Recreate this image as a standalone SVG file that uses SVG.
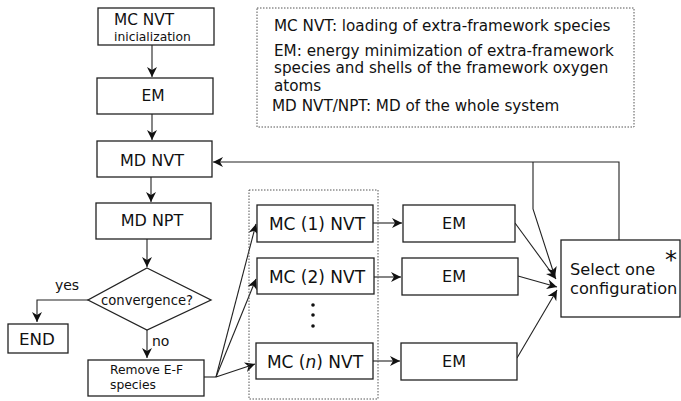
<svg xmlns="http://www.w3.org/2000/svg" width="681" height="401" viewBox="0 0 681 401">
<defs>
<style>
.box{fill:#fff;stroke:#222;stroke-width:1.3}
.dot{fill:none;stroke:#555;stroke-width:1;stroke-dasharray:1.5 1.5}
.c{fill:none;stroke:#222;stroke-width:1.1}
text{font-family:"DejaVu Sans",sans-serif;fill:#111}
.t16{font-size:16px;text-anchor:middle}
.t17{font-size:17px;text-anchor:middle}
.leg{font-size:15.2px}
</style>
<marker id="ah" viewBox="-11 -6 12 12" refX="0" refY="0" markerWidth="12" markerHeight="12" markerUnits="userSpaceOnUse" orient="auto">
<path d="M-10,-5 L0,0 L-10,5 L-7,0 Z" fill="#111"/>
</marker>
</defs>
<rect width="681" height="401" fill="#fff"/>

<g id="legend">
<rect class="dot" x="257" y="8" width="377" height="119"/>
<text class="leg" x="274" y="31">MC NVT: loading of extra-framework species</text>
<text class="leg" x="274" y="55.5">EM: energy minimization of extra-framework</text>
<text class="leg" x="274" y="73">species and shells of the framework oxygen</text>
<text class="leg" x="274" y="90.5">atoms</text>
<text class="leg" x="272" y="111">MD NVT/NPT: MD of the whole system</text>
</g>

<g id="connectors">
<line class="c" x1="152" y1="45" x2="152" y2="77" marker-end="url(#ah)"/>
<line class="c" x1="152" y1="114" x2="152" y2="140" marker-end="url(#ah)"/>
<line class="c" x1="151" y1="177" x2="151" y2="202" marker-end="url(#ah)"/>
<line class="c" x1="147" y1="239" x2="147" y2="267" marker-end="url(#ah)"/>
<line class="c" x1="147" y1="330" x2="147" y2="358" marker-end="url(#ah)"/>
<polyline class="c" points="88,300 37,300 37,322" marker-end="url(#ah)"/>
<polyline class="c" points="204,377 216,377"/>
<line class="c" x1="216" y1="377" x2="256" y2="224" marker-end="url(#ah)"/>
<line class="c" x1="216" y1="377" x2="256" y2="279" marker-end="url(#ah)"/>
<line class="c" x1="216" y1="377" x2="255" y2="364" marker-end="url(#ah)"/>
<line class="c" x1="373" y1="223" x2="402" y2="223" marker-end="url(#ah)"/>
<line class="c" x1="374" y1="277" x2="401" y2="277" marker-end="url(#ah)"/>
<line class="c" x1="373" y1="361" x2="400" y2="361" marker-end="url(#ah)"/>
<line class="c" x1="515" y1="223" x2="556" y2="279" marker-end="url(#ah)"/>
<line class="c" x1="518" y1="276" x2="557" y2="287" marker-end="url(#ah)"/>
<line class="c" x1="517" y1="358" x2="557" y2="290" marker-end="url(#ah)"/>
<polyline class="c" points="533,162 533,209 555,277" marker-end="url(#ah)"/>
<polyline class="c" points="619,240 619,162 213,162" marker-end="url(#ah)"/>
</g>

<g id="n_mcnvt_init">
<rect class="box" x="98" y="8" width="116" height="37"/>
<text x="114" y="25" style="font-size:15.3px">MC NVT</text>
<text x="114" y="41" style="font-size:12.3px">inicialization</text>
</g>
<g id="n_em">
<rect class="box" x="97" y="78" width="116" height="36"/>
<text class="t16" x="153" y="101" style="font-size:15.5px">EM</text>
</g>
<g id="n_mdnvt">
<rect class="box" x="97" y="141" width="115" height="36"/>
<text class="t16" x="152" y="166">MD NVT</text>
</g>
<g id="n_mdnpt">
<rect class="box" x="96" y="203" width="115" height="36"/>
<text class="t16" x="152" y="226">MD NPT</text>
</g>
<g id="n_conv">
<polygon class="box" points="147,268 211,300 147,330 88,300"/>
<text x="147" y="305" style="font-size:13.2px;text-anchor:middle">convergence?</text>
<text x="67" y="290" style="font-size:14px;text-anchor:middle">yes</text>
<text x="152" y="346" style="font-size:14px">no</text>
</g>
<g id="n_end">
<rect class="box" x="8" y="324" width="60" height="29"/>
<text x="37" y="345" style="font-size:16.7px;text-anchor:middle">END</text>
</g>
<g id="n_remove">
<rect class="box" x="88" y="360" width="116" height="36"/>
<text x="110" y="374" style="font-size:12.3px">Remove E-F</text>
<text x="110" y="389" style="font-size:12.3px">species</text>
</g>

<g id="n_mcgroup">
<rect class="dot" x="249" y="190" width="129" height="209"/>
<circle cx="313" cy="305" r="1.8" fill="#111"/>
<circle cx="313" cy="315" r="1.8" fill="#111"/>
<circle cx="313" cy="326" r="1.8" fill="#111"/>
</g>
<g id="n_mc1">
<rect class="box" x="257" y="205" width="116" height="37"/>
<text class="t17" x="317" y="230">MC (1) NVT</text>
</g>
<g id="n_mc2">
<rect class="box" x="257" y="258" width="117" height="36"/>
<text class="t17" x="317" y="283">MC (2) NVT</text>
</g>
<g id="n_mcn">
<rect class="box" x="256" y="343" width="117" height="36"/>
<text class="t17" x="315" y="368">MC (<tspan font-style="italic">n</tspan>) NVT</text>
</g>
<g id="n_em1">
<rect class="box" x="403" y="205" width="112" height="37"/>
<text class="t16" x="454" y="229">EM</text>
</g>
<g id="n_em2">
<rect class="box" x="402" y="258" width="116" height="37"/>
<text class="t16" x="454" y="282">EM</text>
</g>
<g id="n_em3">
<rect class="box" x="401" y="343" width="116" height="37"/>
<text class="t16" x="454" y="367">EM</text>
</g>
<g id="n_select">
<rect class="box" x="561" y="240" width="119" height="77"/>
<text x="671" y="268" style="font-size:24px;text-anchor:middle">*</text>
<text x="570" y="275" style="font-size:16.2px">Select one</text>
<text x="570" y="294" style="font-size:16.2px">configuration</text>
</g>
</svg>
